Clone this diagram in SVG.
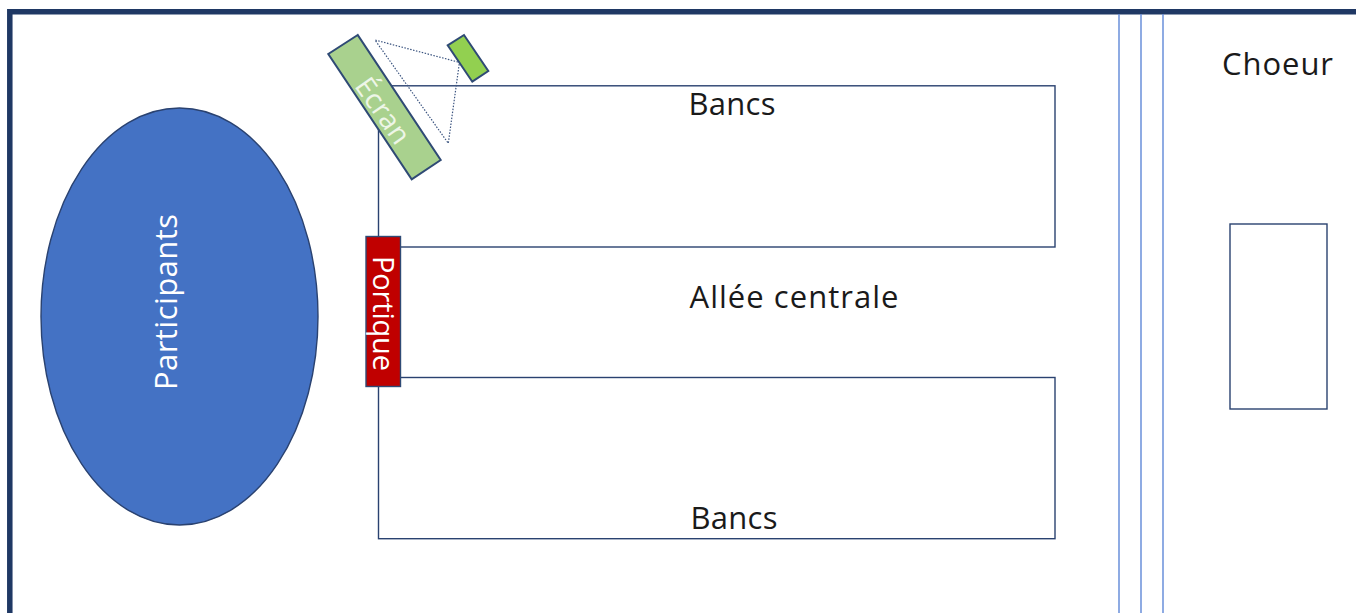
<svg xmlns="http://www.w3.org/2000/svg" width="1356" height="613" viewBox="0 0 1356 613">
<style>
text{font-family:"Open Sans","Noto Sans","DejaVu Sans",sans-serif;font-size:31px}
.k{fill:#1a1a1a}
.b{fill:none;stroke:#2a4270;stroke-width:1.4}
.s{stroke:#2f4a75;stroke-width:2}
.w{fill:#fff}
.v{stroke:#6088d8;stroke-width:1.4;fill:none}
.d{fill:none;stroke:#3c5580;stroke-width:1.2;stroke-dasharray:1.5 1.5}
</style>
<rect width="1356" height="613" fill="#fff"/>
<g id="frame"><path d="M9.800 613V11.800H1356" fill="none" stroke="#1f3864" stroke-width="5.500"/></g>
<g id="aisle-lines"><path class="v" d="M1119 14V613M1141 14V613M1163 14V613"/></g>
<g id="bancs-haut"><rect class="b" x="378.500" y="85.800" width="676.500" height="161.200"/><text class="k" x="732" y="115" text-anchor="middle" textLength="87">Bancs</text></g>
<g id="bancs-bas"><rect class="b" x="378.500" y="377.500" width="676.500" height="161.200"/><text class="k" x="734" y="529" text-anchor="middle" textLength="87">Bancs</text></g>
<g id="allee"><text class="k" x="794" y="308" text-anchor="middle" textLength="209">Allée centrale</text></g>
<g id="choeur"><text class="k" x="1277.500" y="75" text-anchor="middle" textLength="111">Choeur</text></g>
<g id="autel"><rect class="b" x="1230" y="224" width="97" height="185"/></g>
<g id="participants"><ellipse cx="179.500" cy="316.500" rx="138.500" ry="208.500" fill="#4472c4" stroke="#2a4270" stroke-width="1.4"/><text class="w" transform="translate(177 302) rotate(-90)" text-anchor="middle" textLength="176">Participants</text></g>
<g id="ecran"><polygon class="s" points="357.700,35 328.300,54 411.700,179.300 440.700,160" fill="#a9d18e"/><text transform="translate(384 110) rotate(55)" text-anchor="middle" dominant-baseline="central" textLength="74" style="fill:#eef6e8;font-size:28px">Écran</text></g>
<g id="projecteur"><polygon class="s" points="464,35 447.700,45.300 472.300,81.700 488.300,71" fill="#92d050"/></g>
<g id="faisceau"><path class="d" d="M458 62L375 40L448.300 143.300L459.500 62"/></g>
<g id="portique"><rect x="366" y="236.500" width="34.500" height="150" fill="#c00000" stroke="#2f4a75" stroke-width="1.400"/><text class="w" transform="translate(384 313.500) rotate(90)" text-anchor="middle" dominant-baseline="central" textLength="115" style="font-size:29px">Portique</text></g>
</svg>
